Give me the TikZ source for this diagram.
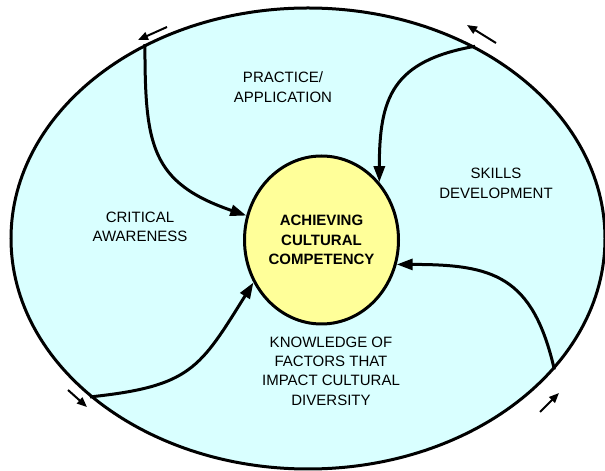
\documentclass[tikz,border=0pt]{standalone}
\usepackage{fontspec}
\setmainfont{Liberation Sans}
\usetikzlibrary{shapes.geometric,arrows.meta}
\definecolor{ringcyan}{HTML}{D9FFFF}
\definecolor{coreyellow}{HTML}{FFFF99}

\begin{document}
\begin{tikzpicture}[x=0.5pt,y=0.5pt,
  flow/.style={line width=1.5pt,-{Triangle[length=8pt,width=5.5pt]}},
  turn/.style={line width=1pt,-{Triangle[length=5pt,width=4pt]}},
  lbl/.style={align=center,font=\fontsize{7.5}{9.7}\selectfont}]
\useasboundingbox (0,0) rectangle (605,471);
\node[ellipse,draw,line width=1.5pt,fill=ringcyan,minimum width=297pt,minimum height=230.5pt,inner sep=0pt] (outer) at (308,232.5) {};
\node[ellipse,draw,line width=1.5pt,fill=coreyellow,minimum width=77pt,minimum height=84pt,inner sep=0pt,align=center,font=\bfseries\fontsize{7.5}{9.7}\selectfont] (core) at (321.5,231) {ACHIEVING\\CULTURAL\\COMPETENCY};
% curved arrows into the core
\draw[flow] (outer.130.7) to[out=-90,in=161,looseness=1.3] (core.162.5);
\draw[flow] (outer.49.3) to[out=190,in=90,looseness=1.3] (core.45);
\draw[flow] (outer.-28.4) to[out=103,in=0,looseness=1.3] (core.-18.4);
\draw[flow] (outer.216.7) to[out=6,in=238,looseness=1.3] (core.212.6);
% small arrows round the ring
\coordinate (t1) at (167,444); \coordinate (h1) at (138,431);
\coordinate (t2) at (496,428); \coordinate (h2) at (467,446);
\coordinate (t3) at (68,81);   \coordinate (h3) at (87,64);
\coordinate (t4) at (540,59);  \coordinate (h4) at (559,78);
\draw[turn] (t1) -- (h1);
\draw[turn] (t2) -- (h2);
\draw[turn] (t3) -- (h3);
\draw[turn] (t4) -- (h4);
% labels
\node[lbl] (practice) at (283,384) {PRACTICE/\\APPLICATION};
\node[lbl] (skills) at (496,287.5) {SKILLS\\DEVELOPMENT};
\node[lbl] (critical) at (140,244) {CRITICAL\\AWARENESS};
\node[lbl] (knowledge) at (331,100) {KNOWLEDGE OF\\FACTORS THAT\\IMPACT CULTURAL\\DIVERSITY};
\end{tikzpicture}
\end{document}
